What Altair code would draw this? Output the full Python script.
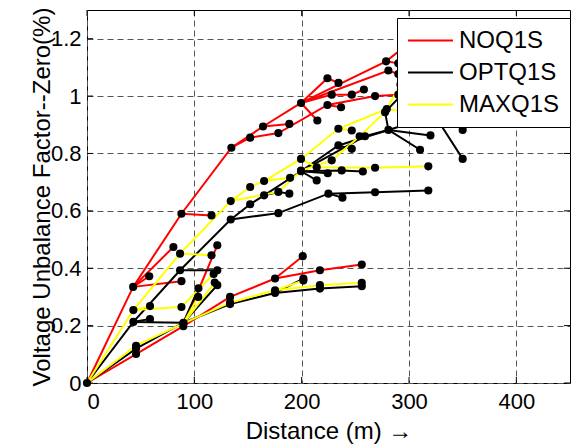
import altair as alt
import pandas as pd

# ---- data ----
series_names = ["NOQ1S", "OPTQ1S", "MAXQ1S"]
series_colors = ["#ff0000", "#000000", "#ffff00"]

noq_paths = [
    [(0, 0), (45.7, 0.101), (89.8, 0.198), (133.3, 0.30), (175.2, 0.364), (217, 0.393), (256, 0.413)],
    [(175.2, 0.364), (201, 0.442)],
    [(89.8, 0.198), (121.4, 0.48)],
    [(0, 0), (43, 0.335), (88, 0.59), (134.5, 0.82), (164, 0.894), (199.4, 0.976)],
    [(43, 0.335), (58, 0.372)],
    [(43, 0.335), (80.5, 0.474)],
    [(43, 0.335), (88, 0.355)],
    [(88, 0.59), (116, 0.584)],
    [(164, 0.894), (188.5, 0.903)],
    [(134.5, 0.82), (152, 0.855), (178.3, 0.871), (224, 0.969), (268.4, 1.0), (290, 1.005)],
    [(224, 0.969), (236.7, 0.961)],
    [(199.4, 0.976), (214.6, 0.915)],
    [(199.4, 0.976), (224, 1.062), (234.3, 1.046)],
    [(199.4, 0.976), (278.7, 1.121), (305, 1.2)],
    [(278.7, 1.121), (290, 1.114)],
    [(199.4, 0.976), (228, 1.005), (246.7, 1.005), (258, 1.023)],
    [(199.4, 0.976), (280.8, 1.089), (290, 1.077)],
]

opt_paths = [
    [(0, 0), (45.7, 0.12), (89.8, 0.21), (133.3, 0.275), (175.2, 0.314), (217, 0.329), (256, 0.337)],
    [(175.2, 0.314), (201.6, 0.364)],
    [(89.8, 0.21), (121.4, 0.341)],
    [(89.8, 0.21), (103.8, 0.33)],
    [(0, 0), (43.2, 0.213), (58.7, 0.223)],
    [(43.2, 0.213), (89.8, 0.21)],
    [(43.2, 0.213), (86.7, 0.393), (133.9, 0.570), (178.3, 0.592), (224.9, 0.66), (268.4, 0.665), (318, 0.671)],
    [(86.7, 0.393), (121.4, 0.393)],
    [(224.9, 0.66), (238, 0.646)],
    [(133.9, 0.570), (152, 0.623), (165, 0.654), (199.4, 0.738), (259, 0.860), (280.8, 0.882),
     (304, 0.909), (326, 0.921), (350, 0.781)],
    [(165, 0.654), (178.3, 0.666), (188.5, 0.66)],
    [(199.4, 0.738), (214, 0.706)],
    [(199.4, 0.738), (224.3, 0.731)],
    [(199.4, 0.738), (237.3, 0.741), (257, 0.737)],
    [(199.4, 0.738), (234.2, 0.828), (280.8, 0.882)],
    [(234.2, 0.828), (246.7, 0.816)],
    [(280.8, 0.882), (310.3, 0.813)],
    [(280.8, 0.882), (320, 0.863)],
    [(280.8, 0.882), (277.7, 0.944), (292, 1.0)],
]

max_paths = [
    [(0, 0), (45.7, 0.13), (89.8, 0.208), (133.3, 0.28), (175.2, 0.323), (217, 0.341), (256, 0.349)],
    [(175.2, 0.323), (201.6, 0.357)],
    [(89.8, 0.208), (119, 0.35)],
    [(89.8, 0.208), (103.6, 0.30)],
    [(0, 0), (43.2, 0.254), (58.7, 0.268)],
    [(43.2, 0.254), (88, 0.265), (118, 0.38)],
    [(43.2, 0.254), (86.7, 0.451), (133.9, 0.634), (152, 0.683), (165, 0.704), (199.4, 0.781),
     (234.2, 0.886), (279.3, 0.955), (292, 1.04)],
    [(86.7, 0.451), (116, 0.445)],
    [(165, 0.704), (189.2, 0.715)],
    [(199.4, 0.781), (214, 0.752), (268.4, 0.75), (318, 0.755)],
    [(234.2, 0.886), (246.7, 0.88)],
    [(279.3, 0.955), (344.5, 0.921), (350, 0.882)],
    [(133.9, 0.634), (178.3, 0.666), (199.4, 0.74), (228, 0.776), (254, 0.86), (277.7, 0.944)],
]

x_ticks = [0, 100, 200, 300, 400]
y_ticks = [0, 0.2, 0.4, 0.6, 0.8, 1.0, 1.2]

# ---- build tables ----
rows = []
for name, paths in zip(series_names, [noq_paths, opt_paths, max_paths]):
    for pi, path in enumerate(paths):
        for k, (xv, yv) in enumerate(path):
            rows.append({"series": name, "path": f"{name}_{pi}", "idx": k, "x": xv, "y": yv})
df_lines = pd.DataFrame(rows)
df_pts = df_lines[["x", "y"]].drop_duplicates()
df_xt = pd.DataFrame({"x": x_ticks})
df_yt = pd.DataFrame({"y": y_ticks})

FONT = "Liberation Sans"
W, H = 483, 373

xenc = alt.X("x:Q", scale=alt.Scale(domain=[0, 450], nice=False),
             axis=alt.Axis(values=x_ticks, title="Distance (m) \u2192", format="d",
                           labelPadding=8, titleY=55, titleBaseline="alphabetic"))
yenc = alt.Y("y:Q", scale=alt.Scale(domain=[0, 1.3], nice=False),
             axis=alt.Axis(values=y_ticks, title="Voltage Unbalance Factor--Zero(%)", format="~g",
                           titleX=-38, titleBaseline="alphabetic"))

lines = alt.Chart(df_lines).mark_line(strokeWidth=2).encode(
    x=xenc, y=yenc,
    color=alt.Color("series:N",
                    scale=alt.Scale(domain=series_names, range=series_colors),
                    sort=series_names,
                    legend=alt.Legend(orient="none", legendX=310, legendY=8, title=None,
                                      symbolType="M-2,0L2,0", symbolSize=506, symbolStrokeWidth=2,
                                      symbolOffset=11,
                                      labelFontSize=24, labelFont=FONT, labelColor="black",
                                      labelOffset=16, padding=10, rowPadding=7,
                                      strokeColor="black", fillColor="white", cornerRadius=0)),
    detail="path:N",
    order="idx:Q",
)

dots = alt.Chart(df_pts).mark_circle(size=66, color="black", opacity=1).encode(x=xenc, y=yenc)

tick_b = alt.Chart(df_xt).mark_rule(color="black", strokeWidth=1).encode(
    x=xenc, y=alt.value(H), y2=alt.value(H - 6))
tick_t = alt.Chart(df_xt).mark_rule(color="black", strokeWidth=1).encode(
    x=xenc, y=alt.value(0), y2=alt.value(6))
tick_l = alt.Chart(df_yt).mark_rule(color="black", strokeWidth=1).encode(
    y=yenc, x=alt.value(0), x2=alt.value(6))
tick_r = alt.Chart(df_yt).mark_rule(color="black", strokeWidth=1).encode(
    y=yenc, x=alt.value(W), x2=alt.value(W - 6))

chart = alt.layer(lines, dots, tick_b, tick_t, tick_l, tick_r).properties(
    width=W, height=H,
    padding={"left": 87, "top": 10, "right": 4, "bottom": 62},
    autosize=alt.AutoSizeParams(type="none"),
    background="white",
).configure_view(stroke="black", strokeWidth=1).configure_axis(
    grid=True, gridDash=[6, 4], gridColor="#555555", gridWidth=1,
    ticks=False, domain=False,
    labelFont=FONT, labelFontSize=22, labelColor="black", labelPadding=6,
    titleFont=FONT, titleFontSize=24, titleFontWeight="normal", titleColor="black",
)

chart.save("out.html", embed_options={"renderer": "svg", "actions": False})
